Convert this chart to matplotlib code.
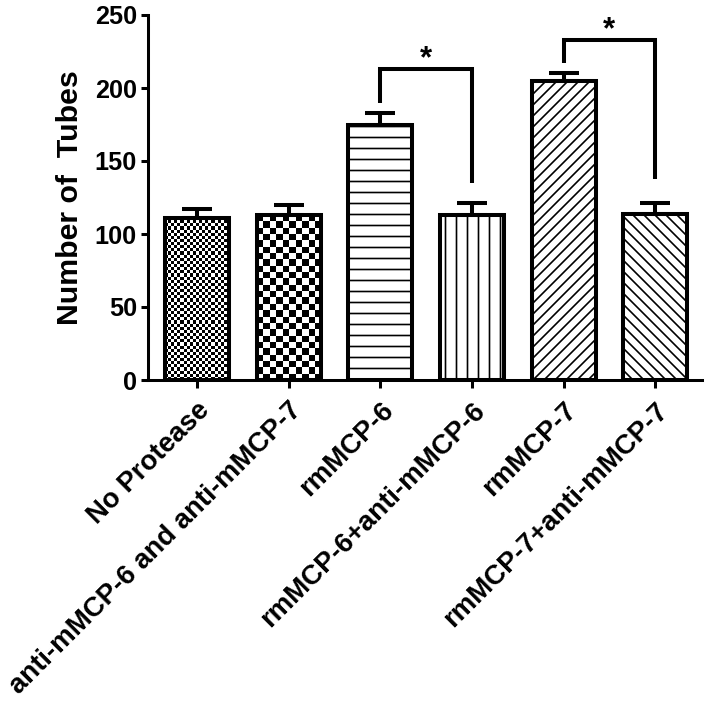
import numpy as np
import matplotlib
matplotlib.use('Agg')
import matplotlib.pyplot as plt

# data
categories = ['No Protease', 'anti-mMCP-6 and anti-mMCP-7', 'rmMCP-6',
              'rmMCP-6+anti-mMCP-6', 'rmMCP-7', 'rmMCP-7+anti-mMCP-7']
tubes = [111, 113, 175, 113, 205, 114]
sem = [6, 7, 8, 8, 5, 7]

# significance brackets (bar index pairs, bracket top, leg ends)
sig_pairs = [(2, 3), (4, 5)]
sig_top = [213, 233]
sig_left_end = [190, 217]
sig_right_end = [135, 138]
sig_text = ['*', '*']

# fill pattern per bar: checkerboard cell size in px, or a hatch
checker_px = [3.1, 6.3, None, None, None, None]
hatches = [None, None, '-', '|', '//', '\\\\']

DPI = 66
W, H = 706, 701
plt.rcParams['font.family'] = ['Liberation Sans', 'DejaVu Sans']
plt.rcParams['font.weight'] = 'bold'
plt.rcParams['hatch.linewidth'] = 1.8

fig = plt.figure(figsize=(W / DPI, H / DPI), dpi=DPI)
ax = fig.add_axes([148 / W, 1 - 380 / H, (702 - 148) / W, (380 - 15) / H])

x = np.arange(len(categories))
lw = 4.4

bars = ax.bar(x, tubes, width=0.7, color='white', edgecolor='black',
              linewidth=lw, zorder=2)
for b, h, c in zip(bars, hatches, checker_px):
    if h:
        b.set_hatch(h)
    if c:
        b.set_facecolor('none')

ax.errorbar(x, tubes, yerr=[np.zeros(len(sem)), sem], fmt='none',
            ecolor='black', elinewidth=lw, capsize=16, capthick=lw, zorder=3)

ax.set_xlim(-0.535, 5.51)
ax.set_ylim(0, 250)

# checkerboard fills (no matching hatch in matplotlib)
for b, c in zip(bars, checker_px):
    if not c:
        continue
    bb = b.get_window_extent()
    nr = max(1, int(round(bb.height / c)))
    nc = max(1, int(round(bb.width / c)))
    board = np.add.outer(np.arange(nr), np.arange(nc)) % 2
    im = ax.imshow(board, cmap='gray', interpolation='nearest', aspect='auto',
                   extent=(b.get_x(), b.get_x() + b.get_width(), 0, b.get_height()),
                   zorder=1.5)
    im.set_clip_path(b)

ax.set_xlim(-0.535, 5.51)
ax.set_ylim(0, 250)

# brackets
for (i, j), top, le, re, t in zip(sig_pairs, sig_top, sig_left_end, sig_right_end, sig_text):
    ax.plot([x[i], x[i], x[j], x[j]], [le, top, top, re], color='black',
            linewidth=lw, solid_joinstyle='miter', solid_capstyle='butt', zorder=3)
    ax.text((x[i] + x[j]) / 2, top + 1, t, ha='center', va='baseline',
            fontsize=34, fontweight='bold')

ax.set_yticks([0, 50, 100, 150, 200, 250])
ax.set_xticks(x)
ax.set_xticklabels(categories, rotation=45, ha='right', rotation_mode='anchor',
                   fontsize=30)
ax.tick_params(axis='y', labelsize=27.5, width=3.3, length=8, pad=4)
ax.tick_params(axis='x', width=3.3, length=9, pad=10)
ax.set_ylabel('Number of  Tubes', fontsize=33, fontweight='bold', labelpad=12)

for s in ['top', 'right']:
    ax.spines[s].set_visible(False)
for s in ['left', 'bottom']:
    ax.spines[s].set_linewidth(3.3)

fig.savefig('out.png', dpi=DPI)
